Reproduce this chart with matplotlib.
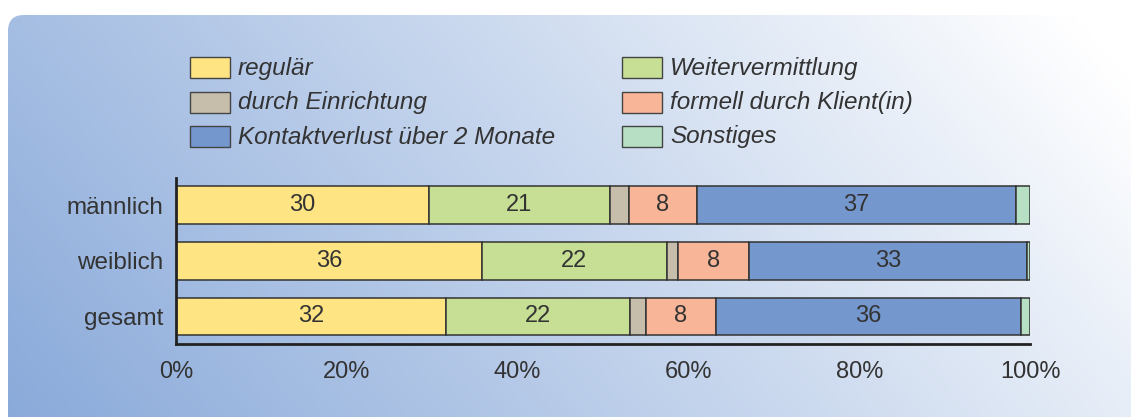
import numpy as np
import matplotlib
matplotlib.use("Agg")
import matplotlib.pyplot as plt
from matplotlib.patches import FancyBboxPatch, Rectangle

plt.rcParams['font.family'] = ['Liberation Sans', 'DejaVu Sans']

# data (shares in %)
groups = ['männlich', 'weiblich', 'gesamt']
series = ['regulär', 'Weitervermittlung', 'durch Einrichtung',
          'formell durch Klient(in)', 'Kontaktverlust über 2 Monate', 'Sonstiges']
regulaer = [29.6, 35.8, 31.6]
weiter = [21.2, 21.7, 21.6]
einrichtung = [2.2, 1.3, 1.8]
formell = [8.0, 8.3, 8.2]
kontakt = [37.4, 32.6, 35.7]
sonstiges = [1.6, 0.3, 1.1]
labelled = [True, True, False, True, True, False]
xticks = [0, 20, 40, 60, 80, 100]

colors = ['#FFE483', '#C6DF95', '#C6BEAA', '#F9B597', '#7497CD', '#B6DFC3']
txt = '#333333'
W, H = 1131, 417

fig = plt.figure(figsize=(W / 100, H / 100), dpi=100)

# background panel with gradient
bg = fig.add_axes([0, 0, 1, 1])
bg.set_xlim(0, W)
bg.set_ylim(H, 0)
bg.axis('off')
xx, yy = np.meshgrid(np.linspace(0, 1, 400), np.linspace(0, 1, 150))
t = np.clip(0.8 * xx + 0.25 * (1 - yy), 0, 1) ** 1.05
c0 = np.array([138, 170, 218]) / 255
c1 = np.array([255, 255, 255]) / 255
img = c0 + (c1 - c0) * t[..., None]
im = bg.imshow(img, extent=[0, W, H, 0], aspect='auto', zorder=0)
panel = FancyBboxPatch((8, 15), W + 40, H + 40,
                       boxstyle='round,pad=0,rounding_size=16',
                       transform=bg.transData, facecolor='none', edgecolor='none')
bg.add_patch(panel)
im.set_clip_path(panel)

# legend, drawn in pixel coordinates
for i, (name, col) in enumerate(zip(series, colors)):
    cx = [190, 622][i % 2]
    ry = 57 + 34.5 * (i // 2)
    bg.add_patch(Rectangle((cx, ry), 40, 21, facecolor=col, edgecolor='#444444',
                           linewidth=1.0, zorder=2))
    bg.text(cx + 48, ry + 11, name, fontsize=17.5, style='italic', color=txt,
            va='center', ha='left', zorder=2)

# chart
ax = fig.add_axes([176 / W, 1 - 344 / H, (1030 - 176) / W, (344 - 178) / H])
ax.patch.set_alpha(0)
data = [regulaer, weiter, einrichtung, formell, kontakt, sonstiges]
y = np.arange(len(groups))[::-1]
left = np.zeros(len(groups))
for vals, col, lab in zip(data, colors, labelled):
    vals = np.array(vals)
    ax.barh(y, vals, left=left, height=0.68, color=col, edgecolor='#333333',
            linewidth=1.1, zorder=2)
    if lab:
        for yi, l, v in zip(y, left, vals):
            ax.text(l + v / 2, yi, f'{round(v)}', ha='center', va='center',
                    fontsize=17, color=txt, zorder=3)
    left += vals

ax.set_xlim(0, 100)
ax.set_ylim(-0.494, 2.485)
ax.set_yticks(y)
ax.set_yticklabels(groups, fontsize=17.5, color=txt)
ax.set_xticks(xticks)
ax.set_xticklabels([f'{v}%' for v in xticks], fontsize=17, color=txt)
ax.tick_params(axis='x', length=0, pad=12)
ax.tick_params(axis='y', length=0, pad=9)
for s in ['top', 'right']:
    ax.spines[s].set_visible(False)
for s in ['left', 'bottom']:
    ax.spines[s].set_linewidth(2)
    ax.spines[s].set_color('#222222')

fig.savefig('out.png', dpi=100)
